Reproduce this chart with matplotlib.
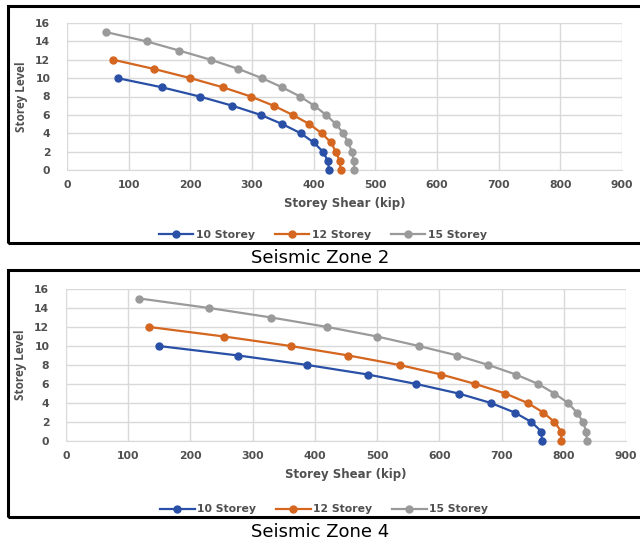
import matplotlib
matplotlib.use("Agg")
import matplotlib.pyplot as plt
from matplotlib.patches import Rectangle

# ---- data ----
z2_levels_10 = list(range(0, 11))
z2_levels_12 = list(range(0, 13))
z2_levels_15 = list(range(0, 16))
z2_shear_10 = [425, 423, 415, 400, 379, 349, 314, 268, 215, 154, 82]
z2_shear_12 = [444, 442, 436, 428, 413, 393, 366, 335, 298, 253, 200, 141, 75]
z2_shear_15 = [466, 465, 462, 456, 448, 436, 420, 401, 378, 349, 316, 278, 233, 182, 129, 64]

z4_shear_10 = [765, 764, 748, 721, 683, 631, 563, 485, 388, 277, 149]
z4_shear_12 = [796, 796, 785, 767, 742, 706, 658, 603, 536, 454, 361, 254, 134]
z4_shear_15 = [837, 836, 831, 821, 807, 785, 759, 723, 679, 629, 567, 500, 420, 330, 230, 118]

series_names = ["10 Storey", "12 Storey", "15 Storey"]
series_colors = ["#2950a6", "#d4661f", "#9a9a9a"]
x_ticks = [0, 100, 200, 300, 400, 500, 600, 700, 800, 900]
y_ticks = [0, 2, 4, 6, 8, 10, 12, 14, 16]
captions = ["Seismic Zone 2", "Seismic Zone 4"]

W, H = 640, 546
fig = plt.figure(figsize=(6.4, 5.46), dpi=100)

def fx(px):
    return px / W

def fy(py):
    return 1 - py / H

# frames
for top, bot in [(6, 243), (270, 517)]:
    fig.patches.append(Rectangle((fx(8), fy(bot)), 1.2, fy(top) - fy(bot),
                                 transform=fig.transFigure, fill=False,
                                 edgecolor="black", linewidth=2.2))

panels = [
    (dict(l=67, r=622, t=23, b=170), [z2_shear_10, z2_shear_12, z2_shear_15], 258, -0.44),
    (dict(l=66, r=626, t=289, b=441), [z4_shear_10, z4_shear_12, z4_shear_15], 532, -0.45),
]
levels = [z2_levels_10, z2_levels_12, z2_levels_15]

txt_col = "#505050"
for (box, shears, cap_y, leg_y), cap in zip(panels, captions):
    ax = fig.add_axes([fx(box["l"]), fy(box["b"]), (box["r"] - box["l"]) / W,
                       (box["b"] - box["t"]) / H])
    for name, col, xs, ys in zip(series_names, series_colors, shears, levels):
        ax.plot(xs, ys, color=col, linewidth=1.6, marker="o", markersize=5,
                markerfacecolor=col, markeredgecolor=col, label=name, clip_on=False, zorder=3)
    ax.set_xlim(0, 900)
    ax.set_ylim(0, 16)
    ax.set_xticks(x_ticks)
    ax.set_yticks(y_ticks)
    ax.grid(True, color="#d9d9d9", linewidth=1.0)
    ax.set_axisbelow(True)
    for s in ["top", "right", "left"]:
        ax.spines[s].set_visible(False)
    ax.spines["bottom"].set_color("#d9d9d9")
    ax.tick_params(axis="x", length=0, colors=txt_col, pad=7)
    ax.tick_params(axis="y", length=0, colors=txt_col, pad=12)
    for lab in ax.get_xticklabels() + ax.get_yticklabels():
        lab.set_fontfamily("DejaVu Sans")
        lab.set_fontweight("bold")
        lab.set_fontsize(7.8)
    ax.set_xlabel("Storey Shear (kip)", fontsize=8.5, fontweight="bold",
                  family="DejaVu Sans", color=txt_col, labelpad=5)
    ax.set_ylabel("Storey Level", fontsize=8.5, fontweight="bold",
                  family="Open Sans", color=txt_col, labelpad=5)
    leg = ax.legend(loc="center", bbox_to_anchor=(0.461, leg_y), ncol=3, frameon=False,
                    prop=dict(family="DejaVu Sans", weight="bold", size=7.8),
                    handlelength=3.2, columnspacing=1.8, handletextpad=0.25)
    for t in leg.get_texts():
        t.set_color(txt_col)
    fig.text(0.5, fy(cap_y), cap, ha="center", va="center", fontsize=13,
             family="DejaVu Sans", color="black")

fig.savefig("out.png", dpi=100)
